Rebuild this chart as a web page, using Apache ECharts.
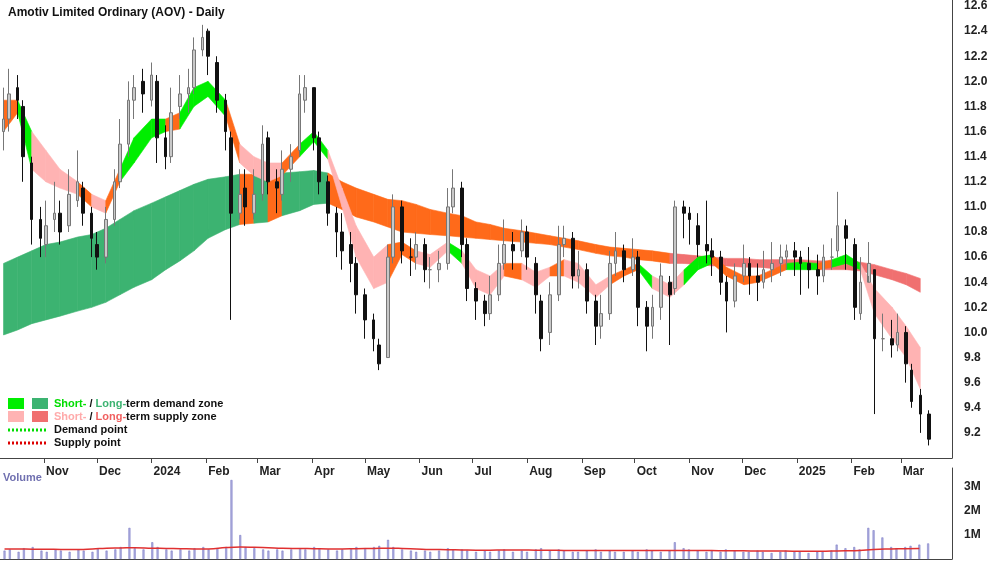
<!DOCTYPE html>
<html><head><meta charset="utf-8">
<script src="https://cdn.jsdelivr.net/npm/echarts@6/dist/echarts.min.js"></script>
<style>html,body{margin:0;padding:0;background:#fff}#c{width:1000px;height:562px}</style>
</head><body><div id="c"></div>
<script>
// candle values (every 3rd trading day)
const opens  = [11.6,11.7,11.95,11.8,11.35,10.9,10.7,10.9,10.95,10.85,11.05,11.15,10.95,10.7,10.6,10.9,11.2,11.5,11.85,12.0,11.85,12.0,11.55,11.4,11.8,11.9,11.95,12.25,12.4,12.15,11.85,11.55,10.95,11.15,10.95,11.1,11.55,11.2,11.1,11.3,11.45,11.85,11.95,11.55,11.2,10.95,10.8,10.7,10.55,10.3,10.1,9.9,9.8,10.6,11.0,10.6,10.6,10.7,10.5,10.5,10.55,11.0,11.15,10.7,10.35,10.25,10.15,10.3,10.55,10.7,10.65,10.8,10.55,10.25,10.0,10.3,10.7,10.75,10.45,10.5,10.25,10.05,10.15,10.55,10.65,10.5,10.6,10.2,10.05,10.2,10.4,10.35,11.0,10.95,10.85,10.7,10.65,10.6,10.4,10.25,10.45,10.55,10.45,10.4,10.5,10.55,10.6,10.65,10.6,10.55,10.5,10.45,10.6,10.65,10.85,10.7,10.15,10.4,10.5,9.95,9.95,9.9,10.0,9.7,9.5,9.35];
const closes = [11.7,11.9,11.85,11.4,10.9,10.75,10.85,10.95,10.8,11.1,11.2,10.95,10.75,10.6,10.9,11.2,11.5,11.85,11.95,11.9,12.05,11.55,11.4,11.75,11.9,11.95,12.25,12.35,12.2,11.85,11.6,10.95,11.1,11.0,11.1,11.5,11.2,11.15,11.3,11.4,11.9,11.95,11.55,11.2,10.95,10.8,10.65,10.55,10.3,10.1,9.95,9.75,10.6,11.0,10.65,10.6,10.7,10.5,10.5,10.55,11.0,11.15,10.7,10.35,10.25,10.15,10.3,10.55,10.7,10.65,10.8,10.6,10.3,9.95,10.3,10.7,10.75,10.45,10.5,10.25,10.05,10.15,10.55,10.65,10.5,10.6,10.2,10.05,10.2,10.45,10.3,11.0,10.95,10.9,10.7,10.65,10.6,10.4,10.25,10.45,10.55,10.45,10.4,10.5,10.55,10.6,10.65,10.6,10.55,10.5,10.45,10.6,10.6,10.85,10.75,10.2,10.4,10.55,9.95,9.95,9.9,10.0,9.75,9.45,9.35,9.15];
const highs  = [11.95,12.1,12.05,11.85,11.4,11.0,11.05,11.2,11.05,11.3,11.45,11.2,11.0,10.8,11.0,11.3,11.7,12.0,12.05,12.1,12.15,12.05,11.65,11.95,12.05,12.1,12.35,12.45,12.42,12.2,11.9,11.6,11.3,11.3,11.3,11.65,11.6,11.3,11.45,11.5,12.05,12.05,11.95,11.6,11.25,11.0,10.95,10.8,10.6,10.35,10.15,9.95,10.7,11.1,11.05,10.75,10.8,10.75,10.6,10.65,11.15,11.3,11.2,10.75,10.4,10.3,10.45,10.7,10.9,10.8,10.9,10.85,10.6,10.3,10.4,10.85,10.85,10.8,10.65,10.55,10.3,10.3,10.65,10.8,10.7,10.75,10.65,10.25,10.3,10.55,10.45,11.05,11.05,11.0,10.95,11.05,10.75,10.65,10.45,10.55,10.7,10.6,10.55,10.65,10.72,10.7,10.7,10.72,10.65,10.68,10.62,10.7,10.75,11.12,10.9,10.75,10.6,10.72,10.5,10.15,10.1,10.15,10.05,9.75,9.55,9.38];
const lows   = [11.45,11.6,11.7,11.2,10.7,10.6,10.6,10.8,10.7,10.8,11.0,10.85,10.6,10.5,10.55,10.85,11.15,11.4,11.7,11.75,11.8,11.35,11.3,11.35,11.7,11.75,11.9,12.2,12.05,11.75,11.45,10.1,10.9,10.85,10.9,11.05,11.1,10.95,11.05,11.2,11.4,11.75,11.45,11.1,10.85,10.6,10.5,10.4,10.15,9.95,9.85,9.7,9.8,10.55,10.55,10.45,10.5,10.4,10.35,10.4,10.5,10.95,10.6,10.25,10.1,10.05,10.1,10.25,10.5,10.5,10.6,10.5,10.15,9.85,9.9,10.25,10.6,10.35,10.35,10.15,9.9,9.95,10.1,10.45,10.4,10.45,10.05,9.85,9.95,10.1,9.9,10.3,10.75,10.7,10.6,10.55,10.45,10.3,10.0,10.2,10.4,10.3,10.25,10.35,10.4,10.45,10.5,10.45,10.3,10.35,10.3,10.4,10.5,10.6,10.5,10.1,10.1,10.45,9.35,9.85,9.8,9.85,9.6,9.4,9.2,9.1];
const volumes = [0.35,0.4,0.3,0.45,0.5,0.35,0.3,0.4,0.35,0.3,0.4,0.35,0.3,0.45,0.35,0.4,0.5,1.3,0.45,0.4,0.7,0.5,0.4,0.35,0.4,0.35,0.45,0.5,0.4,0.45,0.5,3.3,1.0,0.5,0.45,0.4,0.35,0.4,0.35,0.4,0.45,0.4,0.5,0.45,0.4,0.35,0.4,0.45,0.5,0.45,0.5,0.55,0.8,0.5,0.4,0.35,0.3,0.35,0.3,0.35,0.45,0.4,0.4,0.35,0.3,0.35,0.3,0.35,0.4,0.3,0.35,0.3,0.4,0.45,0.35,0.4,0.35,0.3,0.3,0.35,0.4,0.3,0.35,0.3,0.3,0.35,0.3,0.4,0.35,0.3,0.35,0.7,0.45,0.4,0.35,0.3,0.35,0.3,0.4,0.35,0.3,0.3,0.35,0.3,0.25,0.3,0.35,0.3,0.3,0.25,0.3,0.3,0.35,0.6,0.45,0.5,0.4,1.3,1.2,0.9,0.5,0.45,0.5,0.55,0.6,0.65];
const volMA = [0.42,0.42,0.41,0.41,0.4,0.4,0.42,0.45,0.46,0.47,0.45,0.44,0.43,0.42,0.42,0.48,0.5,0.49,0.47,0.45,0.44,0.43,0.42,0.42,0.43,0.44,0.45,0.44,0.42,0.4,0.39,0.38,0.37,0.37,0.38,0.38,0.37,0.37,0.36,0.36,0.36,0.36,0.35,0.35,0.35,0.36,0.36,0.35,0.35,0.34,0.34,0.33,0.33,0.33,0.32,0.32,0.33,0.34,0.36,0.4,0.42,0.43,0.44];
// long-term band (every 6th trading day): upper, lower, zone
const longUp = [10.55,10.6,10.65,10.7,10.72,10.76,10.78,10.83,10.9,10.97,11.03,11.08,11.13,11.18,11.22,11.24,11.26,11.26,11.26,11.27,11.28,11.29,11.27,11.2,11.15,11.1,11.06,11.05,11.02,10.98,10.95,10.93,10.88,10.86,10.83,10.81,10.79,10.77,10.75,10.73,10.7,10.68,10.67,10.66,10.65,10.63,10.62,10.61,10.6,10.59,10.59,10.58,10.58,10.58,10.58,10.57,10.57,10.57,10.56,10.54,10.5,10.47,10.43];
const longLo = [9.98,10.02,10.07,10.1,10.13,10.17,10.2,10.24,10.3,10.36,10.42,10.5,10.57,10.65,10.75,10.82,10.86,10.87,10.88,10.93,10.97,11.02,11.03,10.98,10.92,10.88,10.84,10.8,10.79,10.78,10.77,10.76,10.75,10.74,10.73,10.72,10.71,10.7,10.68,10.66,10.63,10.61,10.6,10.58,10.57,10.55,10.55,10.54,10.53,10.53,10.52,10.52,10.51,10.51,10.51,10.5,10.5,10.5,10.49,10.46,10.42,10.38,10.32];
const longZone = "GGGGGGGGGGGGGGGGOGOGGGOOOOOOOOOOOOOOOOOOOOOOORRRRRRRRRRRRRRRRRRR";
const shortUp = [11.85,11.85,11.6,11.45,11.3,11.2,11.1,11.05,11.3,11.55,11.7,11.7,11.75,11.95,12.0,11.85,11.5,11.4,11.35,11.35,11.5,11.6,11.45,11.15,10.85,10.6,10.7,10.72,10.65,10.62,10.72,10.65,10.5,10.45,10.55,10.55,10.48,10.52,10.58,10.55,10.38,10.45,10.5,10.55,10.45,10.38,10.5,10.6,10.62,10.52,10.45,10.45,10.5,10.55,10.56,10.55,10.58,10.62,10.55,10.35,10.2,10.05,9.88];
const shortLo = [11.6,11.75,11.3,11.2,11.15,11.1,11.0,10.95,11.2,11.35,11.55,11.6,11.62,11.8,11.88,11.72,11.35,11.25,11.2,11.25,11.4,11.52,11.38,11.0,10.6,10.35,10.4,10.62,10.55,10.52,10.65,10.55,10.35,10.3,10.45,10.42,10.36,10.45,10.45,10.4,10.28,10.38,10.45,10.5,10.35,10.28,10.38,10.5,10.55,10.45,10.38,10.4,10.45,10.5,10.5,10.5,10.52,10.55,10.5,10.15,9.95,9.8,9.55];
const shortZone = "OGPPPOPOGGGOGGGOPPPOGGPPPPOOPPGPPPOPPOPPPOOGPPGGOOOOOGGOGGPPPPP";
const yTicks = [9.2,9.4,9.6,9.8,10.0,10.2,10.4,10.6,10.8,11.0,11.2,11.4,11.6,11.8,12.0,12.2,12.4,12.6];

// trading dates
const dates=[]; {let d=new Date(Date.UTC(2023,9,9)); let n=0;
 while(dates.length<opens.length){const wd=d.getUTCDay(); if(wd>0&&wd<6){ if(n%3===0) dates.push(d.getTime()); n++; } d=new Date(d.getTime()+86400000);} }
const bandDates = dates.filter((_,i)=>i%2===0);
const COL={G:'#00ee00',D:'#3cb371',P:'#ffb3b3',R:'#f07070',O:'#ff6a1a'};
function segs(up,lo,zone,isLong){const out=[];for(let i=0;i<up.length-1;i++){let z=zone[i]; if(isLong&&z==='G')z='D'; out.push([bandDates[i],up[i],lo[i],bandDates[i+1],up[i+1],lo[i+1],z]);}return out;}
function bandSeries(data){return {type:'custom',xAxisIndex:0,yAxisIndex:0,data:data,encode:{x:[0,3],y:[1,2,4,5]},silent:true,
 renderItem:(p,api)=>{const a=api.coord([api.value(0),api.value(1)]),b=api.coord([api.value(0),api.value(2)]),c=api.coord([api.value(3),api.value(5)]),d=api.coord([api.value(3),api.value(4)]);
 const z=data[p.dataIndex][6];return {type:'polygon',shape:{points:[a,b,c,d]},style:{fill:COL[z],stroke:COL[z],lineWidth:0.6}};}};}

const candles = dates.map((t,i)=>[t,opens[i],closes[i],lows[i],highs[i]]);
const chart=echarts.init(document.getElementById('c'));
const lab={color:'#222',fontSize:12,fontWeight:'bold',fontFamily:'Liberation Sans'};
const XMIN=Date.UTC(2023,9,7), XMAX=Date.UTC(2025,2,30);
chart.setOption({animation:false,
 title:{text:'Amotiv Limited Ordinary (AOV) - Daily',left:3,top:2,textStyle:{fontSize:12,fontWeight:'bold',color:'#111',fontFamily:'Liberation Sans'}},
 grid:[{left:0,right:48,top:0,bottom:104},{left:0,right:48,top:468,bottom:3}],
 xAxis:[{type:'time',gridIndex:0,min:XMIN,max:XMAX,minInterval:28*86400000,maxInterval:31*86400000,
   axisLine:{lineStyle:{color:'#444'}},axisTick:{show:true,length:5,lineStyle:{color:'#444'}},splitLine:{show:false},
   axisLabel:Object.assign({align:'left',padding:[0,0,0,2],hideOverlap:false,formatter:{year:'{yyyy}',month:'{MMM}',day:''}},lab)},
  {type:'time',gridIndex:1,min:XMIN,max:XMAX,position:'top',axisLine:{lineStyle:{color:'#444'}},axisTick:{show:false},axisLabel:{show:false},splitLine:{show:false}}],
 yAxis:[{type:'value',gridIndex:0,position:'right',min:9.0,max:12.648,interval:0.2,axisLine:{show:true,lineStyle:{color:'#444'}},axisTick:{show:false},splitLine:{show:false},
   axisLabel:Object.assign({showMinLabel:false,showMaxLabel:false,margin:12,formatter:v=>yTicks.some(t=>Math.abs(t-v)<1e-6)?v.toFixed(1):''},lab)},
  {type:'value',gridIndex:1,position:'right',min:0,max:3.8,interval:1,axisLine:{show:true,lineStyle:{color:'#444'}},axisTick:{show:false},splitLine:{show:false},
   axisLabel:Object.assign({showMinLabel:false,showMaxLabel:false,margin:12,formatter:v=>v===0?'':v+'M'},lab)}],
 series:[bandSeries(segs(longUp,longLo,longZone,true)),bandSeries(segs(shortUp,shortLo,shortZone,false)),
  {type:'candlestick',data:candles,barWidth:3,itemStyle:{color:'#c8c8c8',color0:'#111',borderColor:'#777',borderColor0:'#111',borderWidth:1}},
  {type:'bar',xAxisIndex:1,yAxisIndex:1,data:dates.map((t,i)=>[t,volumes[i]]),barWidth:2,itemStyle:{color:'#b0b0e0',borderColor:'#7070c0',borderWidth:0.5}},
  {type:'line',xAxisIndex:1,yAxisIndex:1,data:bandDates.map((t,i)=>[t,volMA[i]]),showSymbol:false,smooth:true,lineStyle:{color:'#e03030',width:1.5}}],
 graphic:[
  {type:'text',left:3,top:472,style:{text:'Volume',fill:'#7070b0',font:'bold 11px Liberation Sans'}},
  {type:'rect',shape:{x:8,y:398,width:16,height:11},style:{fill:'#00ee00'}},
  {type:'rect',shape:{x:32,y:398,width:16,height:11},style:{fill:'#3cb371'}},
  {type:'rect',shape:{x:8,y:411,width:16,height:11},style:{fill:'#ffb3b3'}},
  {type:'rect',shape:{x:32,y:411,width:16,height:11},style:{fill:'#f07070'}},
  {type:'text',x:54,y:398,style:{rich:{a:{fill:'#00dd00',font:'bold 11px Liberation Sans'},b:{fill:'#3cb371',font:'bold 11px Liberation Sans'},c:{fill:'#111',font:'bold 11px Liberation Sans'}},text:'{a|Short-}{c| / }{b|Long-}{c|term demand zone}'}},
  {type:'text',x:54,y:411,style:{rich:{a:{fill:'#ffaaaa',font:'bold 11px Liberation Sans'},b:{fill:'#f06060',font:'bold 11px Liberation Sans'},c:{fill:'#111',font:'bold 11px Liberation Sans'}},text:'{a|Short-}{c| / }{b|Long-}{c|term supply zone}'}},
  {type:'line',shape:{x1:8,y1:430,x2:48,y2:430},style:{stroke:'#00dd00',lineWidth:3,lineDash:[2,2]}},
  {type:'line',shape:{x1:8,y1:443,x2:48,y2:443},style:{stroke:'#dd0000',lineWidth:3,lineDash:[2,2]}},
  {type:'text',x:54,y:424,style:{text:'Demand point',fill:'#111',font:'bold 11px Liberation Sans'}},
  {type:'text',x:54,y:437,style:{text:'Supply point',fill:'#111',font:'bold 11px Liberation Sans'}}
 ]});
</script></body></html>
